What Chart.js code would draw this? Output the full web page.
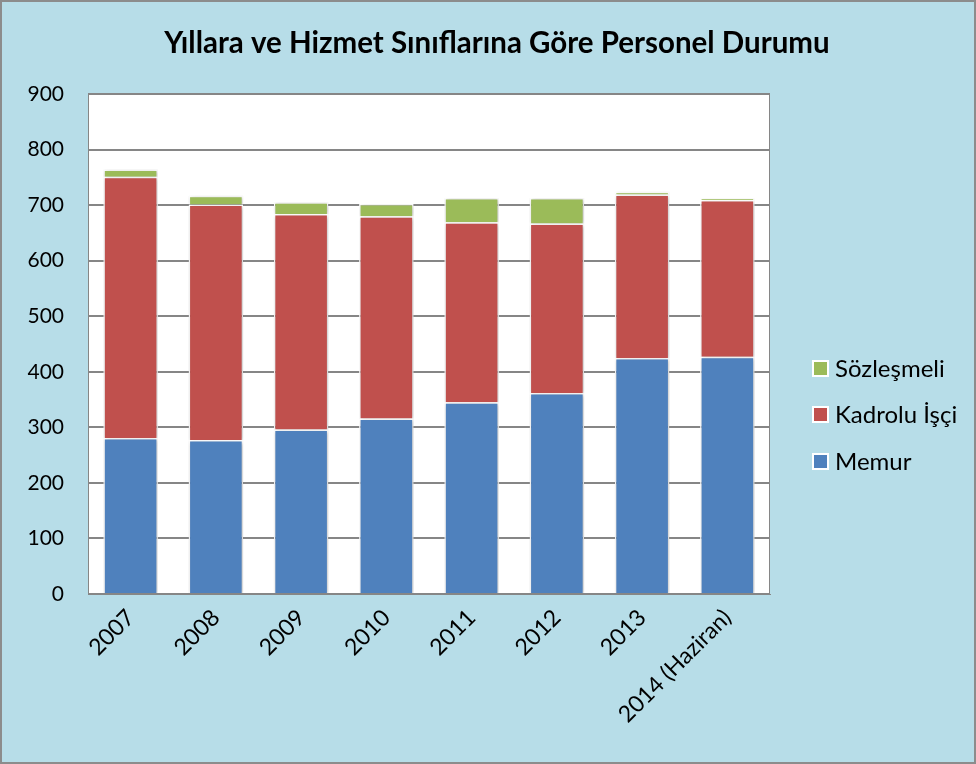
<!DOCTYPE html>
<html>
<head>
<meta charset="utf-8">
<script src="https://cdn.jsdelivr.net/npm/chart.js@4.4.0/dist/chart.umd.min.js"></script>
<style>
  html, body { margin: 0; padding: 0; background: #fff; }
  #wrap { width: 976px; height: 764px; position: relative; }
</style>
</head>
<body>
<div id="wrap"><canvas id="personel-chart" width="976" height="764"></canvas></div>
<script>
const years = ['2007', '2008', '2009', '2010', '2011', '2012', '2013', '2014 (Haziran)'];
const memur = [281, 277, 296, 316, 345, 362, 425, 427];
const kadroluIsci = [470, 424, 388, 364, 324, 305, 294, 282];
const sozlesmeli = [13, 16, 21, 22, 44, 46, 5, 3];

const chartTitle = 'Yıllara ve Hizmet Sınıflarına Göre Personel Durumu';
const fontFamily = 'Lato, "Open Sans", sans-serif';

// background, frame, title and the legend on the right
const decorations = {
    id: 'decorations',
    beforeDraw(chart) {
        const ctx = chart.ctx;
        const area = chart.chartArea;
        ctx.save();
        ctx.fillStyle = '#B7DDE8';
        ctx.fillRect(0, 0, chart.width, chart.height);
        ctx.strokeStyle = '#8C8C8C';
        ctx.lineWidth = 2;
        ctx.strokeRect(1, 1, chart.width - 2, chart.height - 2);
        ctx.fillStyle = '#FFFFFF';
        ctx.fillRect(area.left, area.top, area.right - area.left, area.bottom - area.top);
        ctx.restore();
    },
    beforeDatasetsDraw(chart) {
        // soft shadow like the office chart
        const ctx = chart.ctx;
        ctx.save();
        ctx.shadowColor = 'rgba(0,0,0,0.25)';
        ctx.shadowBlur = 4;
        ctx.shadowOffsetX = 1;
        ctx.shadowOffsetY = 1;
    },
    afterDatasetsDraw(chart) {
        chart.ctx.restore();
    },
    afterDraw(chart) {
        const ctx = chart.ctx;
        const area = chart.chartArea;
        ctx.save();
        ctx.strokeStyle = '#868686';
        ctx.lineWidth = 1;
        ctx.strokeRect(area.left + 0.5, area.top + 0.5, area.right - area.left - 1, area.bottom - area.top - 1);

        ctx.fillStyle = '#000';
        ctx.font = 'bold 29.5px ' + fontFamily;
        ctx.textAlign = 'center';
        ctx.textBaseline = 'middle';
        ctx.fillText(chartTitle, 497, 43);

        ctx.font = '24px ' + fontFamily;
        ctx.textAlign = 'left';
        const rows = [2, 1, 0];
        const ys = [368, 414, 461];
        rows.forEach((d, i) => {
            const ds = chart.data.datasets[d];
            ctx.fillStyle = '#FFFFFF';
            ctx.fillRect(812, ys[i] - 8, 17, 17);
            ctx.fillStyle = ds.backgroundColor;
            ctx.fillRect(814, ys[i] - 6, 13, 13);
            ctx.fillStyle = '#000';
            ctx.fillText(ds.label, 835, ys[i] + 1);
        });
        ctx.restore();
    }
};

function createChart() {
    const ctx = document.getElementById('personel-chart').getContext('2d');

    new Chart(ctx, {
        type: 'bar',
        data: {
            labels: years,
            datasets: [
                {
                    label: 'Memur',
                    data: memur,
                    backgroundColor: '#4F81BD',
                    borderColor: '#FFFFFF',
                    borderWidth: 1.5,
                },
                {
                    label: 'Kadrolu İşçi',
                    data: kadroluIsci,
                    backgroundColor: '#C0504D',
                    borderColor: '#FFFFFF',
                    borderWidth: 1.5,
                },
                {
                    label: 'Sözleşmeli',
                    data: sozlesmeli,
                    backgroundColor: '#9BBB59',
                    borderColor: '#FFFFFF',
                    borderWidth: 1.5,
                },
            ],
        },
        options: {
            responsive: false,
            animation: false,
            layout: {
                padding: { top: 94, right: 206, bottom: 0, left: 0 },
            },
            datasets: {
                bar: { categoryPercentage: 1, barPercentage: 0.64 },
            },
            plugins: {
                legend: { display: false },
                title: { display: false },
                tooltip: { enabled: false },
            },
            scales: {
                x: {
                    stacked: true,
                    grid: { display: false },
                    border: { color: '#868686' },
                    ticks: {
                        color: '#000',
                        font: { family: fontFamily, size: 23 },
                        minRotation: 45,
                        maxRotation: 45,
                        padding: 2,
                    },
                    afterFit(scale) { scale.height = 170; },
                },
                y: {
                    stacked: true,
                    min: 0,
                    max: 900,
                    grid: { color: '#868686', lineWidth: 2, drawTicks: false },
                    border: { display: false },
                    ticks: {
                        stepSize: 100,
                        color: '#000',
                        font: { family: fontFamily, size: 21 },
                        padding: 24,
                    },
                    afterFit(scale) { scale.width = 88; },
                },
            },
        },
        plugins: [decorations],
    });
}

createChart();
</script>
</body>
</html>
